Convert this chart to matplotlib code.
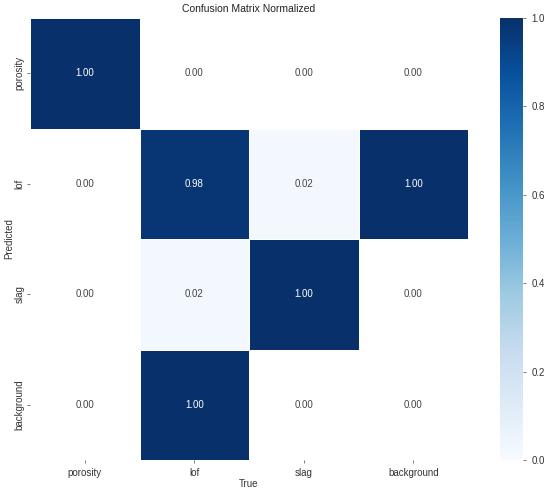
import numpy as np
import matplotlib
matplotlib.use("Agg")
import matplotlib.pyplot as plt
from matplotlib.colors import Normalize

plt.rcParams['font.family'] = ['Liberation Sans', 'DejaVu Sans']

classes = ["porosity", "lof", "slag", "background"]
# rows = Predicted, cols = True
matrix = [
    [1.00, 0.00, 0.00, 0.00],
    [0.00, 0.98, 0.02, 1.00],
    [0.00, 0.02, 1.00, 0.00],
    [0.00, 1.00, 0.00, 0.00],
]
cbar_ticks = [0.0, 0.2, 0.4, 0.6, 0.8, 1.0]

W, H = 550, 491
fig = plt.figure(figsize=(W / 100, H / 100), dpi=100)
ax = fig.add_axes([30 / W, 1 - 460 / H, 438 / W, 442 / H])
cax = fig.add_axes([500 / W, 1 - 460 / H, 23 / W, 442 / H])

data = np.array(matrix, dtype=float)
masked = np.ma.masked_where(data < 0.005, data)
cmap = plt.get_cmap("Blues").copy()
cmap.set_bad("white")
norm = Normalize(0, 1)
im = ax.pcolormesh(masked, cmap=cmap, norm=norm, edgecolors="white", linewidth=0.6)
ax.set_xlim(0, len(classes))
ax.set_ylim(len(classes), 0)

for i in range(data.shape[0]):
    for j in range(data.shape[1]):
        v = data[i, j]
        col = "white" if v > 0.5 else "#444444"
        ax.text(j + 0.5, i + 0.5, f"{v:.2f}", ha="center", va="center",
                fontsize=7, color=col)

ax.set_xticks(np.arange(len(classes)) + 0.5)
ax.set_yticks(np.arange(len(classes)) + 0.5)
ax.set_xticklabels(classes, fontsize=7, color="#333333")
ax.set_yticklabels(classes, fontsize=7, color="#333333", rotation=90, va="center")
ax.tick_params(axis="x", length=2.5, width=0.6, color="#666666", pad=3)
ax.tick_params(axis="y", length=2.5, width=0.6, color="#666666", pad=1.5)
for s in ax.spines.values():
    s.set_visible(False)
ax.set_xlabel("True", fontsize=7, color="#333333", labelpad=1)
ax.set_ylabel("Predicted", fontsize=7, color="#333333")
ax.yaxis.set_label_coords(-0.037, 0.5)
ax.set_title("Confusion Matrix Normalized", fontsize=7.5, color="#222222", pad=4)

cb = fig.colorbar(im, cax=cax, ticks=cbar_ticks)
cb.outline.set_visible(False)
cb.ax.tick_params(labelsize=7, length=2.5, width=0.6, color="#666666", labelcolor="#333333")
cb.ax.set_yticklabels([f"{t:.1f}" for t in cbar_ticks])

fig.savefig("out.png", dpi=100)
